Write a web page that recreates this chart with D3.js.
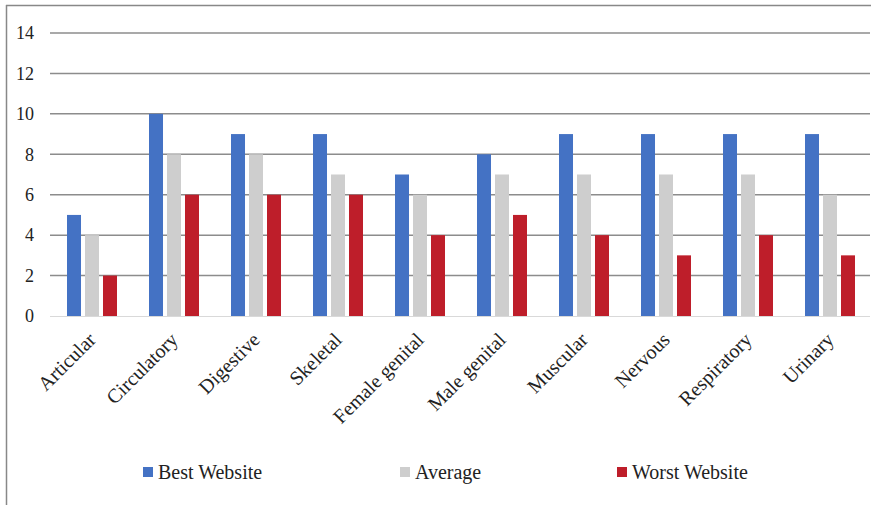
<!DOCTYPE html>
<html><head><meta charset="utf-8">
<script src="https://cdn.jsdelivr.net/npm/d3@7"></script>
<style>body{margin:0;background:#fff}svg{display:block}svg text{font-family:"Liberation Serif","DejaVu Serif",serif}</style>
</head><body>
<svg id="c" width="873" height="505"></svg>
<script>
const categories = ["Articular","Circulatory","Digestive","Skeletal","Female genital","Male genital","Muscular","Nervous","Respiratory","Urinary"];
const seriesNames = ["Best Website","Average","Worst Website"];
const bestValues = [5,10,9,9,7,8,9,9,9,9];
const averageValues = [4,8,8,7,6,7,7,7,7,6];
const worstValues = [2,6,6,6,4,5,4,3,4,3];
const yTicks = [0,2,4,6,8,10,12,14];
const colors = ["#4472C4","#CECECE","#BE1E2A"];
const FONT = "'Liberation Serif','DejaVu Serif',serif";

const series = [bestValues, averageValues, worstValues];
const svg = d3.select("#c");
// frame
svg.append("line").attr("x1",6.5).attr("x2",6.5).attr("y1",5).attr("y2",505).attr("stroke","#888").attr("stroke-width",1.5);
svg.append("line").attr("x1",6).attr("x2",871).attr("y1",5.5).attr("y2",5.5).attr("stroke","#888").attr("stroke-width",1.5);

const x0 = d3.scaleBand().domain(categories).range([50,870]);
const x1 = d3.scaleBand().domain(seriesNames).range([-24,26]).paddingInner(0.222);
const y = d3.scaleLinear().domain([0,14]).range([316,33]);

// gridlines
svg.append("g").selectAll("line").data(yTicks.filter(d=>d>0)).join("line")
  .attr("x1",50).attr("x2",870).attr("y1",d=>y(d)).attr("y2",d=>y(d))
  .attr("stroke","#8c8c8c").attr("stroke-width",1.5);
svg.append("line").attr("x1",50).attr("x2",870).attr("y1",y(0)+0.5).attr("y2",y(0)+0.5).attr("stroke","#d9d9d9").attr("stroke-width",1.2);

// y tick labels
svg.append("g").selectAll("text").data(yTicks).join("text")
  .attr("x",34).attr("y",d=>y(d)).attr("dy","0.35em").attr("text-anchor","end")
  .style("font-family",FONT).attr("font-size",18).attr("fill","#222").text(d=>d);

// bars
series.forEach((vals,si)=>{
  svg.append("g").attr("fill",colors[si]).selectAll("rect").data(vals).join("rect")
    .attr("x",(d,i)=>x0(categories[i])+x0.bandwidth()/2+x1(seriesNames[si]))
    .attr("width",x1.bandwidth())
    .attr("y",d=>y(d)).attr("height",d=>y(0)-y(d));
});

// x labels
svg.append("g").selectAll("text").data(categories).join("text")
  .attr("transform",d=>`translate(${x0(d)+x0.bandwidth()/2+6},${341}) rotate(-45)`)
  .attr("text-anchor","end").style("font-family",FONT).attr("font-size",20).attr("fill","#222").text(d=>d);

// legend
const legX = [143,400,617];
const lg = svg.append("g").selectAll("g").data(seriesNames).join("g")
  .attr("transform",(d,i)=>`translate(${legX[i]},472)`);
lg.append("rect").attr("x",0).attr("y",-5).attr("width",10).attr("height",10).attr("fill",(d,i)=>colors[i]);
lg.append("text").attr("x",15).attr("y",0).attr("dy","0.35em").style("font-family",FONT).attr("font-size",20).attr("fill","#222").text(d=>d);
</script>
</body></html>
